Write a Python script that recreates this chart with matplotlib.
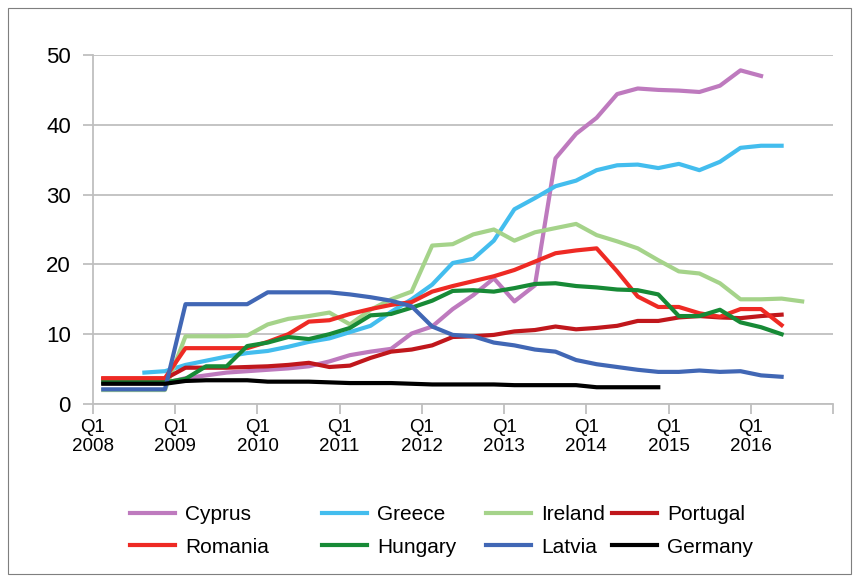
import matplotlib
matplotlib.use("Agg")
import matplotlib.pyplot as plt
from matplotlib.patches import Rectangle
import numpy as np

plt.rcParams['font.family'] = ['Liberation Sans', 'DejaVu Sans']

# Quarterly data, Q1 2008 onwards (index 0 = Q1 2008)
cyprus = [3.0, 3.0, 3.0, 3.0, 3.7, 4.1, 4.5, 4.7, 4.9, 5.1, 5.4, 6.1, 7.0, 7.5, 7.9, 10.1, 11.1,
          13.6, 15.6, 18.0, 14.7, 17.0, 35.2, 38.7, 41.0, 44.4, 45.2, 45.0, 44.9, 44.7, 45.6, 47.8, 47.0]
greece_start = 2
greece = [4.5, 4.7, 5.6, 6.2, 6.8, 7.3, 7.6, 8.2, 8.9, 9.4, 10.3, 11.2, 13.2, 15.0, 17.1, 20.2,
          20.8, 23.4, 27.9, 29.5, 31.2, 32.0, 33.5, 34.2, 34.3, 33.8, 34.4, 33.5, 34.7, 36.7, 37.0, 37.0]
ireland = [2.0, 2.0, 2.0, 2.0, 9.7, 9.7, 9.7, 9.8, 11.4, 12.2, 12.6, 13.1, 11.4, 13.5, 15.0, 16.1,
           22.7, 22.9, 24.3, 25.0, 23.4, 24.6, 25.2, 25.8, 24.2, 23.3, 22.3, 20.6, 19.0, 18.7, 17.3,
           15.0, 15.0, 15.1, 14.7]
portugal = [3.6, 3.6, 3.6, 3.6, 5.2, 5.2, 5.2, 5.3, 5.4, 5.6, 5.9, 5.3, 5.5, 6.6, 7.5, 7.8, 8.4,
            9.6, 9.7, 9.9, 10.4, 10.6, 11.1, 10.7, 10.9, 11.2, 11.9, 11.9, 12.4, 12.6, 12.4, 12.3,
            12.6, 12.8]
romania = [3.7, 3.7, 3.7, 3.7, 8.0, 8.0, 8.0, 8.0, 8.9, 10.0, 11.8, 12.0, 12.9, 13.6, 14.2, 14.6,
           16.1, 16.9, 17.6, 18.3, 19.2, 20.4, 21.6, 22.0, 22.3, 19.0, 15.4, 13.9, 13.9, 13.0, 12.5,
           13.6, 13.6, 11.3]
hungary = [3.1, 3.1, 3.1, 3.1, 3.6, 5.4, 5.4, 8.3, 8.8, 9.6, 9.3, 10.0, 10.9, 12.7, 12.9, 13.8,
           14.8, 16.2, 16.3, 16.1, 16.6, 17.2, 17.3, 16.9, 16.7, 16.4, 16.3, 15.7, 12.6, 12.6, 13.5,
           11.7, 11.0, 10.0]
latvia = [2.1, 2.1, 2.1, 2.1, 14.3, 14.3, 14.3, 14.3, 16.0, 16.0, 16.0, 16.0, 15.7, 15.3, 14.8,
          14.0, 11.1, 9.9, 9.7, 8.8, 8.4, 7.8, 7.5, 6.3, 5.7, 5.3, 4.9, 4.6, 4.6, 4.8, 4.6, 4.7,
          4.1, 3.9]
germany = [2.9, 2.9, 2.9, 2.9, 3.3, 3.4, 3.4, 3.4, 3.2, 3.2, 3.2, 3.1, 3.0, 3.0, 3.0, 2.9, 2.8,
           2.8, 2.8, 2.8, 2.7, 2.7, 2.7, 2.7, 2.4, 2.4, 2.4, 2.4]

tick_labels = ["Q1\n2008", "Q1\n2009", "Q1\n2010", "Q1\n2011", "Q1\n2012",
               "Q1\n2013", "Q1\n2014", "Q1\n2015", "Q1\n2016"]

series = [
    ("Cyprus", cyprus, 0, "#BE7ABE"),
    ("Greece", greece, greece_start, "#43BDEE"),
    ("Ireland", ireland, 0, "#A5D38A"),
    ("Portugal", portugal, 0, "#C0171C"),
    ("Romania", romania, 0, "#EE2A24"),
    ("Hungary", hungary, 0, "#178A36"),
    ("Latvia", latvia, 0, "#4167B5"),
    ("Germany", germany, 0, "#000000"),
]

W, H = 859, 582
fig = plt.figure(figsize=(W / 100, H / 100), dpi=100)
ax = fig.add_axes([93 / W, 1 - 404 / H, (833 - 93) / W, (404 - 55) / H])

handles = {}
for name, vals, start, col in series:
    x = np.arange(start, start + len(vals)) + 0.5
    ln, = ax.plot(x, vals, color=col, lw=3.0, solid_joinstyle='round', label=name)
    handles[name] = ln

ax.set_xlim(0, 36)
ax.set_ylim(0, 50)
ax.set_yticks(range(0, 51, 10))
ax.set_xticks(range(0, 37, 4))
ax.set_xticklabels(tick_labels + [""])
ax.grid(axis='y', color='#BFBFBF', lw=1.3)
ax.set_axisbelow(True)
for s in ['top', 'right']:
    ax.spines[s].set_visible(False)
for s in ['left', 'bottom']:
    ax.spines[s].set_color('#BFBFBF')
    ax.spines[s].set_linewidth(1.3)
ax.tick_params(axis='both', colors='#BFBFBF', width=1.3, length=7, labelcolor='black')
ax.tick_params(axis='y', pad=9, labelsize=16)
ax.tick_params(axis='x', pad=4, labelsize=13.5)
for t in ax.get_xticklabels():
    t.set_linespacing(1.1)

# Legend: four columns of two entries each
cols = [(["Cyprus", "Romania"], 130), (["Greece", "Hungary"], 322),
        (["Ireland", "Latvia"], 486), (["Portugal", "Germany"], 612)]
for names, px in cols:
    fig.legend([handles[n] for n in names], names, loc='upper left',
               bbox_to_anchor=(px / W, 1 - 505 / H), frameon=False, fontsize=15,
               handlelength=2.15, handletextpad=0.5, labelspacing=0.65, borderpad=0.0,
               borderaxespad=0.0)

fig.patches.append(Rectangle((8 / W, 8 / H), (851 - 8) / W, (574 - 8) / H,
                             transform=fig.transFigure, fill=False, ec='#7F7F7F', lw=0.8))

fig.savefig("out.png", dpi=100)
